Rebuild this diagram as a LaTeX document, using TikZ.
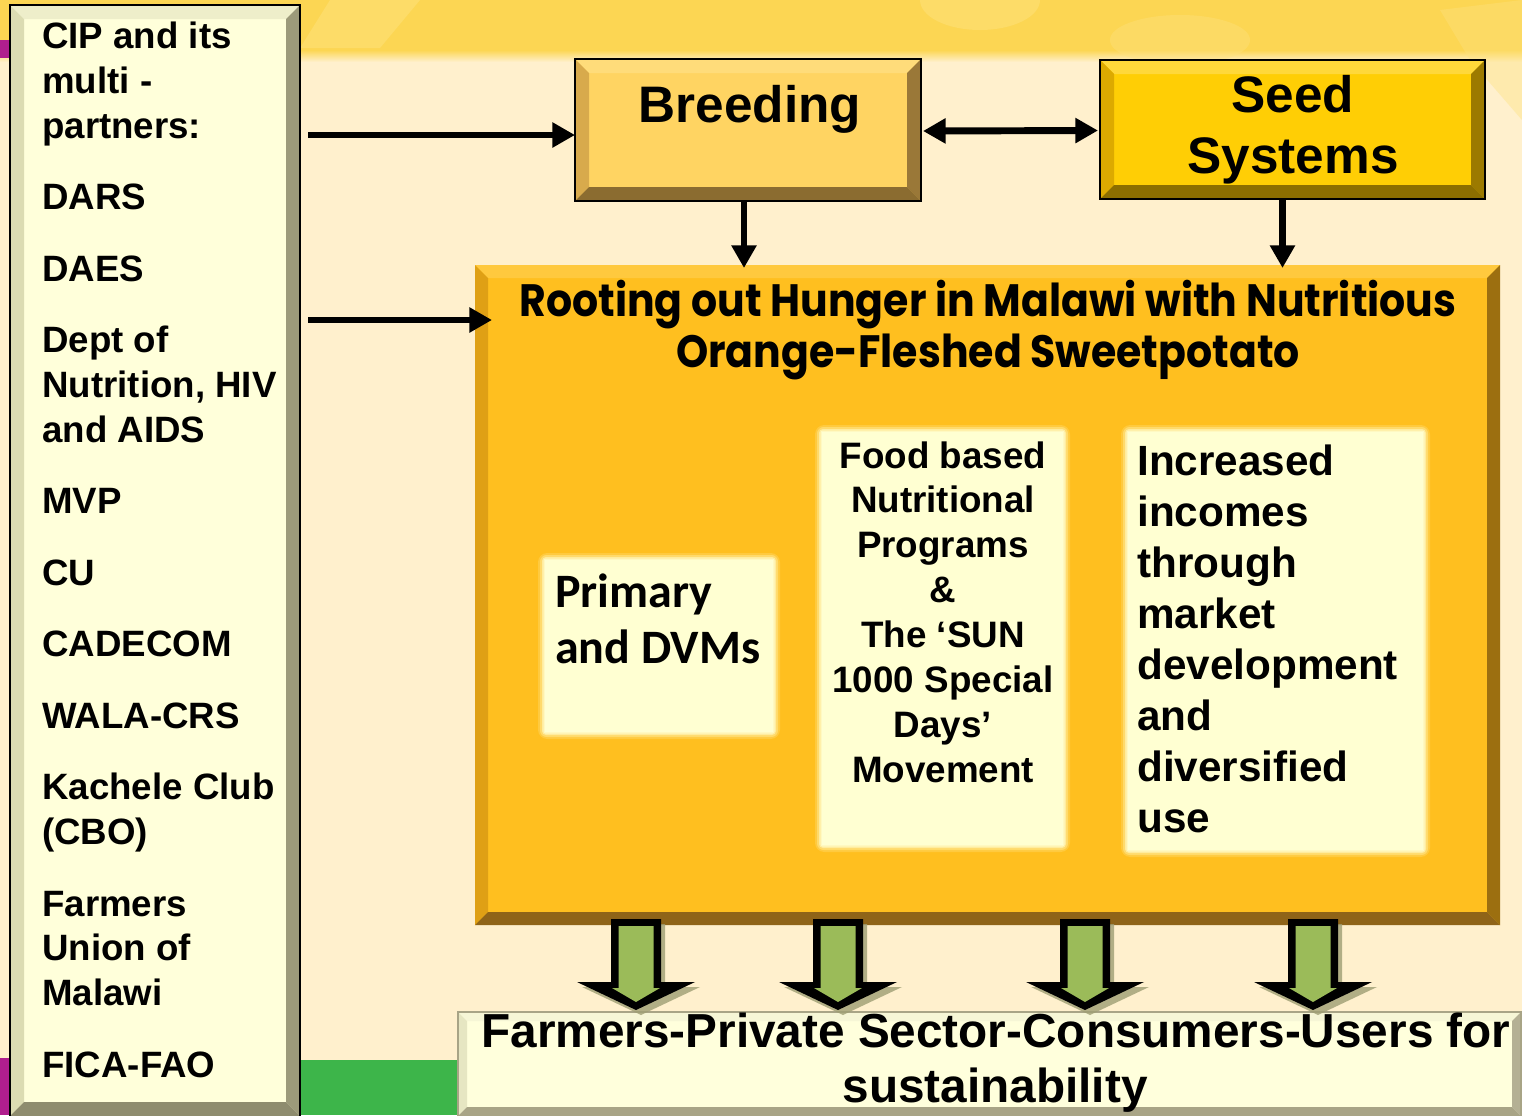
\documentclass[tikz,border=0pt]{standalone}
\usepackage{fontspec}
\setmainfont{Liberation Sans}
\newfontfamily\calib{Carlito}
\newfontfamily\playful{Poppins}
\usetikzlibrary{arrows.meta,calc,fit}

\definecolor{cream}{HTML}{FFF0CD}
\definecolor{band}{HTML}{FCD653}
\definecolor{bandlight}{HTML}{FEE27E}
\definecolor{magstrip}{HTML}{B01E8E}
\definecolor{grass}{HTML}{3DB54A}
\definecolor{panelfill}{HTML}{FFFFDA}
\definecolor{paneltop}{HTML}{EEEECA}
\definecolor{panelleft}{HTML}{DCDCB2}
\definecolor{panelright}{HTML}{9C9A7A}
\definecolor{panelbot}{HTML}{8E8C6E}
\definecolor{breedfill}{HTML}{FFD462}
\definecolor{breedtop}{HTML}{FFDC7A}
\definecolor{breedleft}{HTML}{D8AA4C}
\definecolor{breedright}{HTML}{9A7838}
\definecolor{breedbot}{HTML}{8B6C30}
\definecolor{seedfill}{HTML}{FFCE05}
\definecolor{seedtop}{HTML}{FFD83A}
\definecolor{seedleft}{HTML}{DDAA00}
\definecolor{seedright}{HTML}{9C7A00}
\definecolor{seedbot}{HTML}{8C6E00}
\definecolor{mainfill}{HTML}{FFBF1F}
\definecolor{maintop}{HTML}{FFC93E}
\definecolor{mainleft}{HTML}{DFA015}
\definecolor{mainright}{HTML}{9C6F10}
\definecolor{mainbot}{HTML}{8F6418}
\definecolor{innerfill}{HTML}{FFFFD2}
\definecolor{basefill}{HTML}{FFFFDC}
\definecolor{basetop}{HTML}{F6F6D6}
\definecolor{baseleft}{HTML}{E6E6C2}
\definecolor{baseright}{HTML}{B4B094}
\definecolor{basebot}{HTML}{A8A486}
\definecolor{leaf}{HTML}{9BBB59}
\definecolor{leafshadow}{HTML}{9E9E74}

% four trapezoids that give a box its raised edge
\newcommand\bevel[6]{%
  \fill[#3] (#1.north west) -- (#1.north east) -- ($(#1.north east)+(-#2,#2)$) -- ($(#1.north west)+(#2,#2)$) -- cycle;
  \fill[#4] (#1.north west) -- ($(#1.north west)+(#2,#2)$) -- ($(#1.south west)+(#2,-#2)$) -- (#1.south west) -- cycle;
  \fill[#5] (#1.north east) -- ($(#1.north east)+(-#2,#2)$) -- ($(#1.south east)+(-#2,-#2)$) -- (#1.south east) -- cycle;
  \fill[#6] (#1.south west) -- ($(#1.south west)+(#2,-#2)$) -- ($(#1.south east)+(-#2,-#2)$) -- (#1.south east) -- cycle;
}
% soft pale halo round a text panel
\newcommand\halo[1]{%
  \foreach \g/\o in {7/0.18,5/0.3,3/0.5,1.5/0.7}
    {\fill[innerfill, opacity=\o, rounded corners=\g pt] ($(#1.north west)+(-\g,-\g)$) rectangle ($(#1.south east)+(\g,\g)$);}%
}
% thick green block arrow pointing down, centred on x = #1
\newcommand\leafarrow[1]{%
  \begin{scope}[shift={(#1,0)}]
    \fill[leafshadow, opacity=0.8] (-21,924) -- (29,924) -- (29,987) -- (64,987) -- (5,1015) -- (-54,987) -- (-21,987) -- cycle;
    \fill[black] (-25,919) -- (25,919) -- (25,982) -- (59,982) -- (0,1010) -- (-59,982) -- (-25,982) -- cycle;
    \fill[leaf] (-17.5,926) -- (17.5,926) -- (17.5,988) -- (24,988) -- (0,1002) -- (-24,988) -- (-17.5,988) -- cycle;
  \end{scope}%
}

\begin{document}
\begin{tikzpicture}[x=0.75pt,y=-0.75pt,
  boxframe/.style={inner sep=0pt, outer sep=0pt},
  conn/.style={line width=5.2pt, -{Triangle[length=17pt,width=18pt]}},
  dconn/.style={line width=5.2pt, {Triangle[length=17pt,width=18pt]}-{Triangle[length=17pt,width=18pt]}},
  ptext/.style={inner sep=0pt, font=\bfseries\fontsize{27.5}{33}\selectfont},
  headtext/.style={inner sep=0pt, font=\bfseries\fontsize{38.5}{45}\selectfont},
  foodtext/.style={inner sep=0pt, font=\bfseries\fontsize{27.6}{33}\selectfont},
  incrtext/.style={inner sep=0pt, font=\bfseries\fontsize{31.7}{38}\selectfont},
  primtext/.style={inner sep=0pt, font=\calib\bfseries\fontsize{36}{43}\selectfont},
  basetext/.style={inner sep=0pt, font=\bfseries\fontsize{35.8}{43}\selectfont},
  titletext/.style={inner sep=0pt, font=\playful\bfseries\fontsize{34}{40}\selectfont}]

\useasboundingbox (0,0) rectangle (1522,1115);

% ---- background ----
\fill[cream] (0,0) rectangle (1522,1115);
\fill[band] (0,0) rectangle (1522,50);
\shade[top color=band, bottom color=cream] (0,50) rectangle (1522,62);
\fill[bandlight, opacity=0.5] (330,0) -- (420,0) -- (380,48) -- (300,48) -- cycle;
\fill[bandlight, opacity=0.5] (980,0) ellipse (60 and 30);
\fill[bandlight, opacity=0.4] (1180,40) ellipse (70 and 25);
\fill[bandlight, opacity=0.4] (1440,10) -- (1522,0) -- (1522,120) -- (1470,60) -- cycle;
\fill[magstrip] (0,40) rectangle (10,58);
\fill[magstrip] (0,1058) rectangle (10,1115);
\fill[grass] (300,1060) rectangle (470,1115);

% ---- partner list ----
\node[boxframe, fill=panelfill, fit={(10,5) (300,1116)}] (panel) {};
\bevel{panel}{14}{paneltop}{panelleft}{panelright}{panelbot}
\draw[line width=1.6pt] (panel.south west) -- (panel.north west) -- (panel.north east) -- (panel.south east);
\foreach \y/\t [count=\i] in {48/CIP and its, 93/multi -, 138/partners:, 209/DARS, 281/DAES,
    352/Dept of, 397/{Nutrition, HIV}, 442/and AIDS, 513/MVP, 585/CU, 656/CADECOM,
    728/WALA-CRS, 799/Kachele Club, 844/(CBO), 916/Farmers, 960/Union of, 1005/Malawi, 1077/FICA-FAO}
  {\node[ptext, anchor=base west] (pl\i) at (42,\y) {\t};}

% ---- Breeding ----
\node[boxframe, fill=breedfill, fit={(575,59) (921,201)}] (breed) {};
\bevel{breed}{14}{breedtop}{breedleft}{breedright}{breedbot}
\draw[line width=1.6pt] (breed.north west) rectangle (breed.south east);
\node[headtext, anchor=base] (breedlbl) at (750,122) {Breeding};

% ---- Seed Systems ----
\node[boxframe, fill=seedfill, fit={(1100,60) (1485,199)}] (seed) {};
\bevel{seed}{14}{seedtop}{seedleft}{seedright}{seedbot}
\draw[line width=1.6pt] (seed.north west) rectangle (seed.south east);
\node[headtext, anchor=base] (seedlbl1) at (1293,112) {Seed};
\node[headtext, anchor=base] (seedlbl2) at (1293,173) {Systems};

% ---- central programme box ----
\node[boxframe, fill=mainfill, fit={(475,265) (1500,925)}] (main) {};
\bevel{main}{13}{maintop}{mainleft}{mainright}{mainbot}
\node[titletext, anchor=base] (title1) at (988,316) {\scalebox{0.905}[1]{Rooting out Hunger in Malawi with Nutritious}};
\node[titletext, anchor=base] (title2) at (988,367) {\scalebox{0.905}[1]{Orange-Fleshed Sweetpotato}};

% inner panels
\node[boxframe, fit={(545,560) (773,732)}] (prim) {};
\halo{prim}
\fill[innerfill] (prim.north west) rectangle (prim.south east);
\node[primtext, anchor=base west] (prim1) at (555,607) {Primary};
\node[primtext, anchor=base west] (prim2) at (555,663) {and DVMs};

\node[boxframe, fit={(822,432) (1063,845)}] (food) {};
\halo{food}
\fill[innerfill] (food.north west) rectangle (food.south east);
\foreach \t [count=\i] in {Food based, Nutritional, Programs, \&, The ‘SUN, 1000 Special, Days’, Movement}
  {\node[foodtext, anchor=base] (food\i) at (943,{468+44.9*(\i-1)}) {\t};}

\node[boxframe, fit={(1128,432) (1423,850)}] (incr) {};
\halo{incr}
\fill[innerfill] (incr.north west) rectangle (incr.south east);
\foreach \t [count=\i] in {Increased, incomes, through, market, development, and, diversified, use}
  {\node[incrtext, anchor=base west] (incr\i) at (1137,{475+51.1*(\i-1)}) {\t};}

% ---- bottom strip ----
\node[boxframe, fill=basefill, fit={(458,1012) (1521,1116)}] (base) {};
\bevel{base}{9}{basetop}{baseleft}{baseright}{basebot}
\draw[line width=0.8pt, basebot] (base.south west) -- (base.north west) -- (base.north east) -- (base.south east);
\node[basetext, anchor=base] (base1) at (996,1047) {Farmers-Private Sector-Consumers-Users for};
\node[basetext, anchor=base] (base2) at (995,1102) {sustainability};

% ---- block arrows from the programme to the strip ----
\foreach \cx in {636,838,1085,1313} {\leafarrow{\cx}}

% ---- connectors ----
\coordinate (aimB) at (575,135);
\coordinate (aimM) at (492,320);
\draw[conn] ($(panel.east |- aimB)+(8,0)$) -- (aimB);
\draw[conn] ($(panel.east |- aimM)+(8,0)$) -- (aimM);
\draw[dconn] ($(breed.east)+(2,1)$) -- ($(seed.west)+(-2,1)$);
\draw[conn] ($(breed.south)+(-4,0)$) -- ($(breed.south |- main.north)+(-4,3)$);
\draw[conn] ($(seed.south)+(-10,0)$) -- ($(seed.south |- main.north)+(-10,3)$);

\end{tikzpicture}
\end{document}
